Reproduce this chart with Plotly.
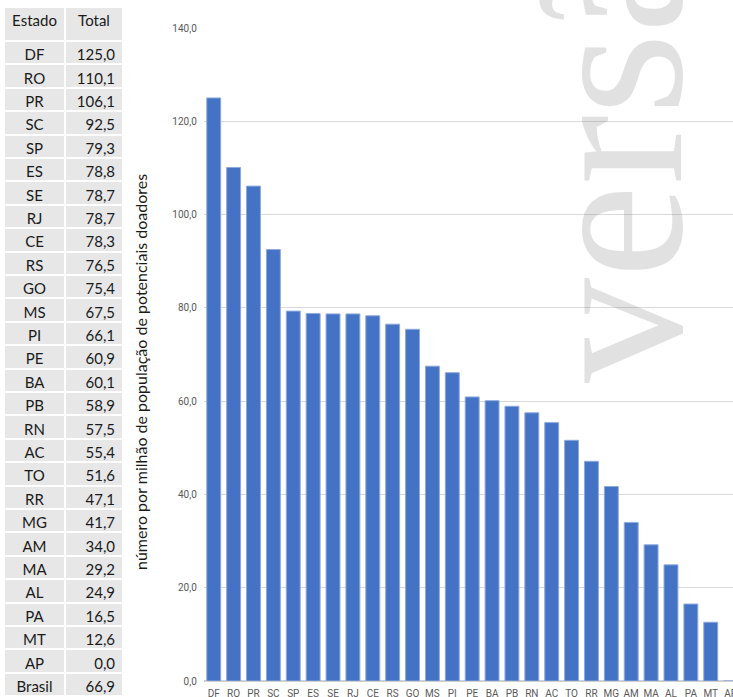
import plotly.graph_objects as go

estados = ["DF", "RO", "PR", "SC", "SP", "ES", "SE", "RJ", "CE", "RS", "GO", "MS", "PI",
           "PE", "BA", "PB", "RN", "AC", "TO", "RR", "MG", "AM", "MA", "AL", "PA", "MT", "AP"]
totais = [125.0, 110.1, 106.1, 92.5, 79.3, 78.8, 78.7, 78.7, 78.3, 76.5, 75.4, 67.5, 66.1,
          60.9, 60.1, 58.9, 57.5, 55.4, 51.6, 47.1, 41.7, 34.0, 29.2, 24.9, 16.5, 12.6, 0.0]
brasil_label = "Brasil"
brasil_total = 66.9
y_ticks = [0, 20, 40, 60, 80, 100, 120, 140]
y_title = "número por milhão de população de potenciais doadores"
watermark = "versão"

W, H = 733, 697

def fmt(v):
    return f"{v:.1f}".replace(".", ",")

table_col1 = estados + [brasil_label]
table_col2 = [fmt(v) for v in totais] + [fmt(brasil_total)]

fig = go.Figure()

fig.add_trace(go.Table(
    domain=dict(x=[4 / W, 123 / W], y=[0, 1 - 7 / H]),
    columnwidth=[61, 58],
    header=dict(
        values=["Estado", "Total"],
        fill_color="#e7e7e7",
        line=dict(color="white", width=2),
        align=["center", "center"],
        font=dict(family="Lato", size=15, color="#1a1a1a"),
        height=34,
    ),
    cells=dict(
        values=[table_col1, table_col2],
        fill_color="#e7e7e7",
        line=dict(color="white", width=2),
        align=["center", "right"],
        font=dict(family="Lato", size=15, color="#1a1a1a"),
        height=23.4,
    ),
))

fig.add_trace(go.Bar(
    x=estados,
    y=totais,
    marker=dict(color="#4472C4", line=dict(color="#8eaadb", width=1)),
    hoverinfo="x+y",
))

plot_left = 203.8
plot_top = 28
plot_bottom = 681

fig.update_layout(
    width=W,
    height=H,
    margin=dict(l=0, r=0, t=0, b=0, autoexpand=False),
    paper_bgcolor="white",
    plot_bgcolor="white",
    separators=",.",
    showlegend=False,
    bargap=0.3,
    xaxis=dict(
        domain=[plot_left / W, 1],
        range=[-0.5, 26.12],
        tickfont=dict(family="Roboto", size=10, color="#595959"),
        showgrid=False,
        showline=False,
        ticks="",
        ticklabelstandoff=5,
        automargin=False,
        fixedrange=True,
    ),
    yaxis=dict(
        domain=[(H - plot_bottom) / H, 1 - plot_top / H],
        range=[0, 140],
        tickvals=y_ticks,
        tickformat=".1f",
        tickfont=dict(family="Roboto", size=10, color="#595959"),
        gridcolor="#d9d9d9",
        gridwidth=1,
        zeroline=True,
        zerolinecolor="#d0d0d0",
        zerolinewidth=1.5,
        ticks="",
        ticklabelstandoff=6,
        automargin=False,
        fixedrange=True,
    ),
    annotations=[
        dict(
            text=y_title, textangle=-90,
            x=140 / W, y=1 - 372 / H, xref="paper", yref="paper",
            xanchor="center", yanchor="middle", showarrow=False,
            font=dict(family="Lato", size=16, color="#1a1a1a"),
        ),
        dict(
            text=watermark, textangle=-90,
            x=610 / W, y=1 - 385 / H, xref="paper", yref="paper",
            xanchor="center", yanchor="bottom", showarrow=False,
            font=dict(family="Liberation Serif", size=210, color="rgba(120,120,120,0.22)"),
        ),
    ],
)

fig.write_html(
    "out.html",
    config={"displayModeBar": False},
    post_script="document.body.style.margin='0';document.body.style.overflow='hidden';",
)
